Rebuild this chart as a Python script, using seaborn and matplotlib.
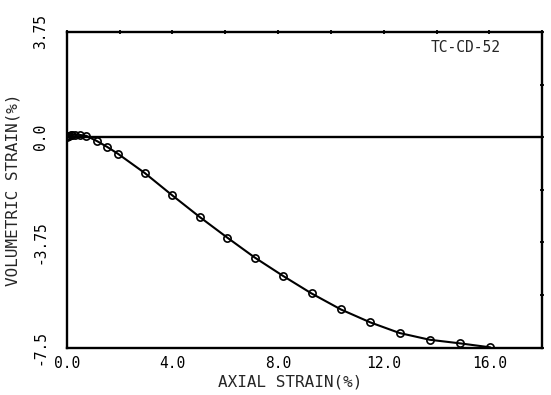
import numpy as np
import pandas as pd
import seaborn as sns
import matplotlib.pyplot as plt
from matplotlib.ticker import MultipleLocator

# axial strain (%) and volumetric strain (%)
axial = [0.0, 0.05, 0.1, 0.15, 0.2, 0.3, 0.5, 0.74, 1.15, 1.54, 1.94, 2.96, 3.98,
         5.03, 6.08, 7.12, 8.20, 9.27, 10.38, 11.49, 12.60, 13.74, 14.90, 16.03]
volumetric = [0.0, 0.03, 0.05, 0.07, 0.08, 0.09, 0.08, 0.05, -0.14, -0.35, -0.59, -1.28, -2.06,
              -2.84, -3.58, -4.29, -4.95, -5.57, -6.14, -6.60, -6.98, -7.22, -7.35, -7.49]
xticks = [0.0, 4.0, 8.0, 12.0, 16.0]
yticks = [3.75, 0.0, -3.75, -7.5]
ytick_labels = ['3.75', '0.0', '-3.75', '-7.5']
test_id = 'TC-CD-52'

df = pd.DataFrame({'axial': axial, 'vol': volumetric})

sns.set_style('white')
plt.rcParams['font.family'] = ['DejaVu Sans Mono', 'DejaVu Sans']

fig = plt.figure(figsize=(5.51, 3.95), dpi=100)
ax = fig.add_axes([0.121, 0.12, 0.863, 0.799])

sns.lineplot(data=df, x='axial', y='vol', ax=ax, color='black', lw=1.5,
             marker='o', markersize=5.2, markerfacecolor='none',
             markeredgecolor='black', markeredgewidth=1.2, sort=False)
ax.axhline(0, color='black', lw=1.7, zorder=1)

ax.set_xlim(0, 18)
ax.set_ylim(-7.5, 3.75)
ax.set_xticks(xticks)
ax.set_xticklabels([f'{v:.1f}' for v in xticks])
ax.xaxis.set_minor_locator(MultipleLocator(2))
ax.set_yticks(yticks)
ax.set_yticklabels(ytick_labels, rotation=90, va='center')
ax.yaxis.set_minor_locator(MultipleLocator(1.875))

ax.tick_params(which='both', direction='inout', length=3.5, width=1.3,
               top=True, right=True, labelsize=10.5, colors='black')
ax.tick_params(axis='y', pad=12)
ax.tick_params(axis='x', pad=4)

for s in ax.spines.values():
    s.set_linewidth(1.7)
    s.set_color('black')

ax.set_xlabel('AXIAL STRAIN(%)', fontsize=11.5)
ax.xaxis.set_label_coords(0.47, -0.085)
ax.set_ylabel('VOLUMETRIC STRAIN(%)', fontsize=11.5)
ax.yaxis.set_label_coords(-0.098, 0.5)

ax.text(0.838, 0.95, test_id, transform=ax.transAxes, ha='center', va='center',
        fontsize=10.5)

fig.savefig('out.png', dpi=100)
plt.close(fig)
